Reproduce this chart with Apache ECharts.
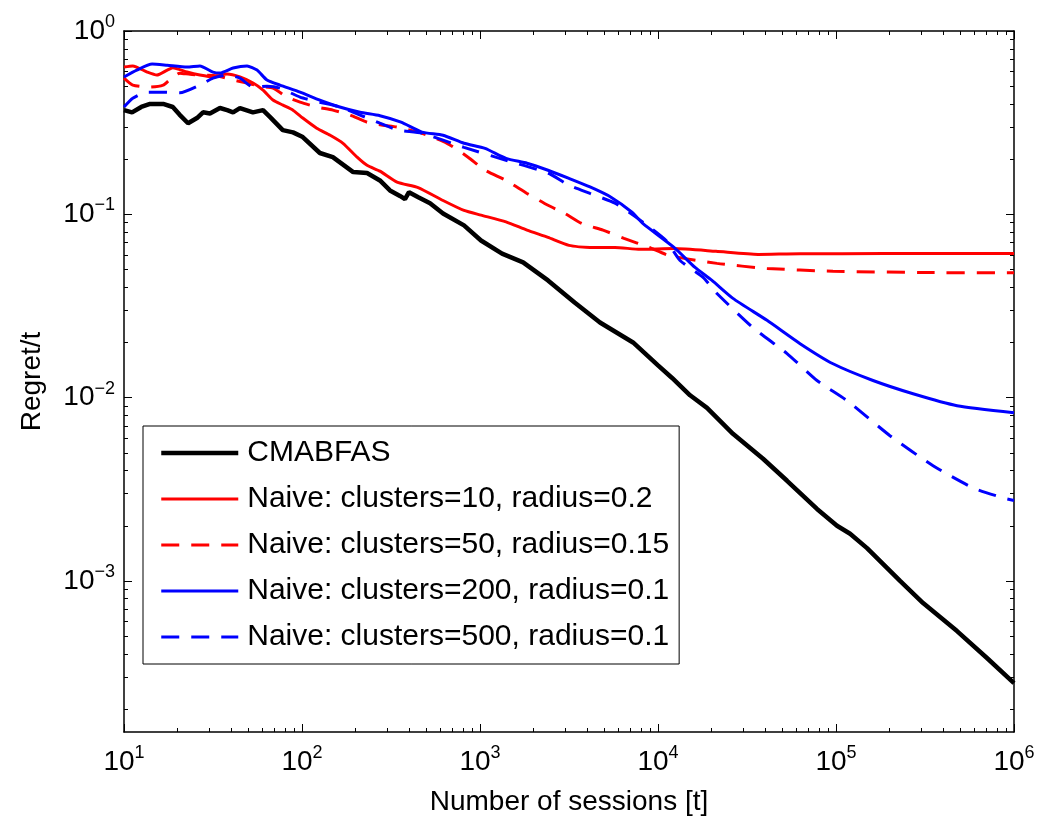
<!DOCTYPE html>
<html><head><meta charset="utf-8">
<script src="https://cdn.jsdelivr.net/npm/echarts@6/dist/echarts.min.js"></script>
<style>html,body{margin:0;padding:0;background:#fff}#c{width:1038px;height:819px}</style>
</head><body><div id="c"></div>
<script>
const seriesNames = ['CMABFAS','Naive: clusters=10, radius=0.2','Naive: clusters=50, radius=0.15','Naive: clusters=200, radius=0.1','Naive: clusters=500, radius=0.1'];
const xTickValues = [10,100,1000,10000,100000,1000000];
const yTickValues = [0.001,0.01,0.1,1];

const cmabfas = [[10,0.37],[11.1,0.36],[12.5,0.385],[14,0.40],[16.6,0.40],[18.8,0.385],[20.5,0.35],[22.9,0.314],[25.7,0.335],[27.8,0.36],[30.4,0.355],[34.6,0.38],[38,0.37],[41,0.36],[44.8,0.38],[53,0.36],[60.4,0.37],[66,0.34],[78,0.288],[89,0.28],[101,0.264],[126,0.216],[149,0.205],[194,0.170],[232,0.168],[274,0.153],[312,0.135],[355,0.126],[379,0.121],[399,0.132],[450,0.124],[524,0.115],[620,0.101],[813,0.087],[1013,0.072],[1330,0.061],[1746,0.0547],[2410,0.0436],[3400,0.033],[4721,0.0257],[7240,0.0200],[10000,0.0150],[12000,0.0128],[15140,0.0103],[18850,0.0088],[26370,0.00635],[38920,0.00464],[53090,0.00352],[78200,0.00247],[101300,0.0020],[120000,0.00181],[149400,0.00151],[229000,0.001],[308500,0.000758],[478600,0.000533],[704700,0.00038],[1000000,0.000277]];

const naive10 = [[10,0.636],[11.2,0.645],[13.5,0.597],[15.3,0.575],[17.5,0.612],[18.8,0.63],[22.6,0.597],[26.7,0.575],[31.6,0.561],[37.9,0.582],[44.8,0.561],[53.1,0.52],[60.4,0.476],[68.7,0.42],[78.2,0.394],[89,0.37],[101,0.335],[121,0.295],[144,0.27],[170,0.244],[204,0.205],[232,0.185],[274,0.172],[342,0.150],[449,0.14],[620,0.119],[813,0.105],[1014,0.099],[1400,0.091],[1837,0.082],[2410,0.0748],[3162,0.0677],[4150,0.066],[5730,0.066],[7930,0.0644],[12300,0.065],[21180,0.0628],[36480,0.0604],[62850,0.061],[108100,0.061],[320800,0.0612],[1000000,0.0612]];

const naive50 = [[10,0.553],[11.2,0.507],[14,0.494],[16.6,0.507],[18,0.54],[20.6,0.589],[23.5,0.58],[27.8,0.575],[33.3,0.57],[41,0.54],[49.1,0.52],[58.1,0.50],[68.7,0.488],[82.4,0.436],[97.5,0.409],[121,0.385],[149,0.37],[186,0.348],[232,0.318],[285,0.306],[342,0.299],[472,0.277],[653,0.244],[857,0.205],[1067,0.174],[1400,0.153],[1837,0.130],[2410,0.112],[3005,0.101],[3744,0.089],[4911,0.082],[6440,0.074],[8900,0.066],[11500,0.0597],[21440,0.054],[40960,0.0507],[96200,0.0489],[351000,0.0481],[1000000,0.048]];

const naive200 = [[10,0.561],[11.8,0.612],[14.4,0.66],[17.5,0.65],[22.6,0.636],[26.7,0.645],[31.6,0.597],[34.6,0.59],[41,0.628],[49.1,0.645],[55.9,0.612],[63.6,0.54],[75.2,0.507],[97.5,0.464],[126,0.42],[163,0.385],[212,0.36],[274,0.345],[360,0.318],[472,0.281],[620,0.270],[813,0.244],[1067,0.229],[1400,0.202],[1837,0.19],[2410,0.174],[3162,0.157],[4150,0.141],[5445,0.124],[7140,0.1026],[8240,0.089],[12300,0.066],[16150,0.0513],[20100,0.0436],[26370,0.0348],[40960,0.0264],[62850,0.0197],[96200,0.0153],[161400,0.0124],[271000,0.0105],[478600,0.00904],[1000000,0.00828]];

const naive500 = [[10,0.385],[11.2,0.43],[13.5,0.464],[16.6,0.464],[20.6,0.46],[26.7,0.507],[31.6,0.553],[37.9,0.575],[44.8,0.553],[53.1,0.494],[63.6,0.50],[75.2,0.488],[97.5,0.436],[126,0.409],[163,0.385],[212,0.348],[274,0.314],[346,0.288],[472,0.277],[813,0.232],[1400,0.197],[2410,0.168],[3162,0.144],[4150,0.130],[5730,0.115],[7930,0.093],[11100,0.072],[13300,0.056],[17910,0.0453],[21440,0.037],[34180,0.0241],[53090,0.0174],[78200,0.0124],[115400,0.00963],[201000,0.0062],[351000,0.00425],[588800,0.00322],[867000,0.00284],[1000000,0.00275]];

const FONT = "'Liberation Sans', Arial, Helvetica, sans-serif";
const xMin = 10, xMax = 1000000, yMin = 1.5e-4, yMax = 1;
const xMinor = [], yMinor = [];
for (let d = 1; d < 6; d++) for (let k = 2; k <= 9; k++) xMinor.push(k * Math.pow(10, d));
for (let d = -4; d < 0; d++) for (let k = 2; k <= 9; k++) { const v = k * Math.pow(10, d); if (v >= yMin) yMinor.push(v); }

function expLabel(v) {
  const e = Math.round(Math.log10(v));
  return '{b|10}{s|' + (e < 0 ? '\u2212' + (-e) : e) + '}';
}
const rich = {
  b: { fontSize: 28, lineHeight: 28, padding: [8, 0, 0, 0], fontFamily: FONT, color: '#000' },
  s: { fontSize: 18, lineHeight: 18, verticalAlign: 'top', fontFamily: FONT, color: '#000' }
};
const axisLineStyle = { show: true, lineStyle: { color: '#000', width: 1.5 } };

function xAx(pos, major, withLabel) {
  return {
    type: 'log', logBase: 10, position: pos, min: xMin, max: xMax,
    axisLine: major ? axisLineStyle : { show: false },
    axisTick: { show: true, inside: true, length: major ? 8 : 4, lineStyle: { color: '#000', width: 1 }, customValues: major ? xTickValues : xMinor },
    axisLabel: withLabel ? { show: true, customValues: xTickValues, formatter: expLabel, rich: rich, margin: 12 } : { show: false },
    splitLine: { show: false }, minorTick: { show: false },
    name: withLabel ? 'Number of sessions [t]' : '', nameLocation: 'middle', nameGap: 56,
    nameTextStyle: { fontSize: 28, fontFamily: FONT, color: '#000' }
  };
}
function yAx(pos, major, withLabel) {
  return {
    type: 'log', logBase: 10, position: pos, min: yMin, max: yMax,
    axisLine: major ? axisLineStyle : { show: false },
    axisTick: { show: true, inside: true, length: major ? 8 : 4, lineStyle: { color: '#000', width: 1 }, customValues: major ? yTickValues : yMinor },
    axisLabel: withLabel ? { show: true, customValues: yTickValues, formatter: expLabel, rich: rich, margin: 9, padding: [0, 0, 8, 0] } : { show: false },
    splitLine: { show: false }, minorTick: { show: false },
    name: withLabel ? 'Regret/t' : '', nameLocation: 'middle', nameGap: 78,
    nameTextStyle: { fontSize: 28, fontFamily: FONT, color: '#000' }
  };
}

function mk(name, data, color, width, dashed, smooth) {
  return {
    name: name, type: 'line', data: data, xAxisIndex: 0, yAxisIndex: 0,
    symbol: 'none', showSymbol: false, smooth: smooth,
    lineStyle: { color: color, width: width, type: dashed ? [18, 12] : 'solid', cap: 'butt' },
    itemStyle: { color: color }
  };
}

const chart = echarts.init(document.getElementById('c'), null, { renderer: 'canvas' });
chart.setOption({
  animation: false,
  backgroundColor: '#fff',
  grid: { left: 124, top: 31, width: 890, height: 701, containLabel: false, outerBoundsMode: 'none' },
  xAxis: [xAx('bottom', true, true), xAx('bottom', false, false), xAx('top', true, false), xAx('top', false, false)],
  yAxis: [yAx('left', true, true), yAx('left', false, false), yAx('right', true, false), yAx('right', false, false)],
  legend: {
    orient: 'vertical', left: 143, top: 426,
    padding: [12, 10, 12, 16], itemGap: 16, itemWidth: 77, itemHeight: 30,
    borderColor: '#000', borderWidth: 1, backgroundColor: '#fff',
    itemStyle: { opacity: 0, borderWidth: 0 },
    lineStyle: { width: 'inherit', type: 'inherit', color: 'inherit' },
    textStyle: { fontSize: 30, fontFamily: FONT, color: '#000', padding: [0, 0, 0, 4] },
    data: seriesNames
  },
  series: [
    mk(seriesNames[0], cmabfas, '#000000', 4.5, false, false),
    mk(seriesNames[1], naive10, '#ff0000', 3, false, 0.2),
    mk(seriesNames[2], naive50, '#ff0000', 3, true, 0.2),
    mk(seriesNames[3], naive200, '#0000ff', 3, false, 0.2),
    mk(seriesNames[4], naive500, '#0000ff', 3, true, 0.2)
  ]
});
</script></body></html>
